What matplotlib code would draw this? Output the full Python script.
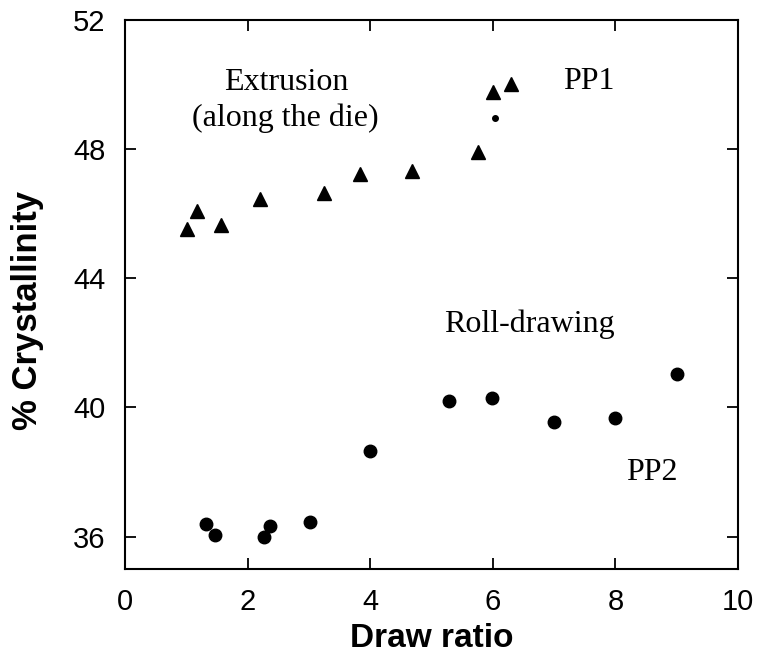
import matplotlib
matplotlib.use("Agg")
import matplotlib.pyplot as plt

#PP1 - extrusion (triangles)
pp1_ratio = [1.01, 1.18, 1.56, 2.21, 3.25, 3.83, 4.69, 5.76, 6.00, 6.30]
pp1_cryst = [45.52, 46.08, 45.64, 46.44, 46.63, 47.24, 47.31, 47.91, 49.75, 50.00]

#small smudge below the top triangles
spot_ratio = [6.04]
spot_cryst = [48.97]

#PP2 - roll-drawing (circles)
pp2_ratio = [1.33, 1.47, 2.27, 2.37, 3.02, 4.00, 5.28, 5.98, 6.99, 8.00, 9.00]
pp2_cryst = [36.40, 36.05, 36.00, 36.33, 36.46, 38.64, 40.20, 40.29, 39.56, 39.66, 41.03]

x_ticks = [0, 2, 4, 6, 8, 10]
y_ticks = [36, 40, 44, 48, 52]

sans = "Liberation Sans"
serif = "Liberation Serif"

fig = plt.figure(figsize=(7.57, 6.60), dpi=100)
ax = fig.add_axes([0.165, 0.138, 0.81, 0.832])

ax.plot(pp1_ratio, pp1_cryst, linestyle="none", marker="^", markersize=9.5,
        color="black")
ax.plot(spot_ratio, spot_cryst, linestyle="none", marker="o", markersize=4,
        color="black")
ax.plot(pp2_ratio, pp2_cryst, linestyle="none", marker="o", markersize=9,
        color="black")

ax.set_xlim(0, 10)
ax.set_ylim(35, 52)
ax.set_xticks(x_ticks)
ax.set_yticks(y_ticks)

ax.tick_params(direction="in", length=8, width=1.3, top=True, right=True,
               pad=14)
for lab in ax.get_xticklabels() + ax.get_yticklabels():
    lab.set_fontfamily(sans)
    lab.set_fontsize(21)

for s in ax.spines.values():
    s.set_linewidth(1.5)

ax.set_xlabel("Draw ratio", fontfamily=sans, fontsize=24, fontweight="bold",
              labelpad=5)
ax.set_ylabel("% Crystallinity", fontfamily=sans, fontsize=25,
              fontweight="bold", labelpad=21)
ax.yaxis.label.set_y(0.47)

#annotations
ax.text(2.63, 50.05, "Extrusion", fontfamily=serif, fontsize=23,
        ha="center", va="center")
ax.text(2.62, 48.96, "(along the die)", fontfamily=serif, fontsize=23,
        ha="center", va="center")
ax.text(7.56, 50.1, "PP1", fontfamily=serif, fontsize=23,
        ha="center", va="center")
ax.text(6.6, 42.56, "Roll-drawing", fontfamily=serif, fontsize=23,
        ha="center", va="center")
ax.text(8.6, 38.0, "PP2", fontfamily=serif, fontsize=23,
        ha="center", va="center")

fig.savefig("out.png", dpi=100)
